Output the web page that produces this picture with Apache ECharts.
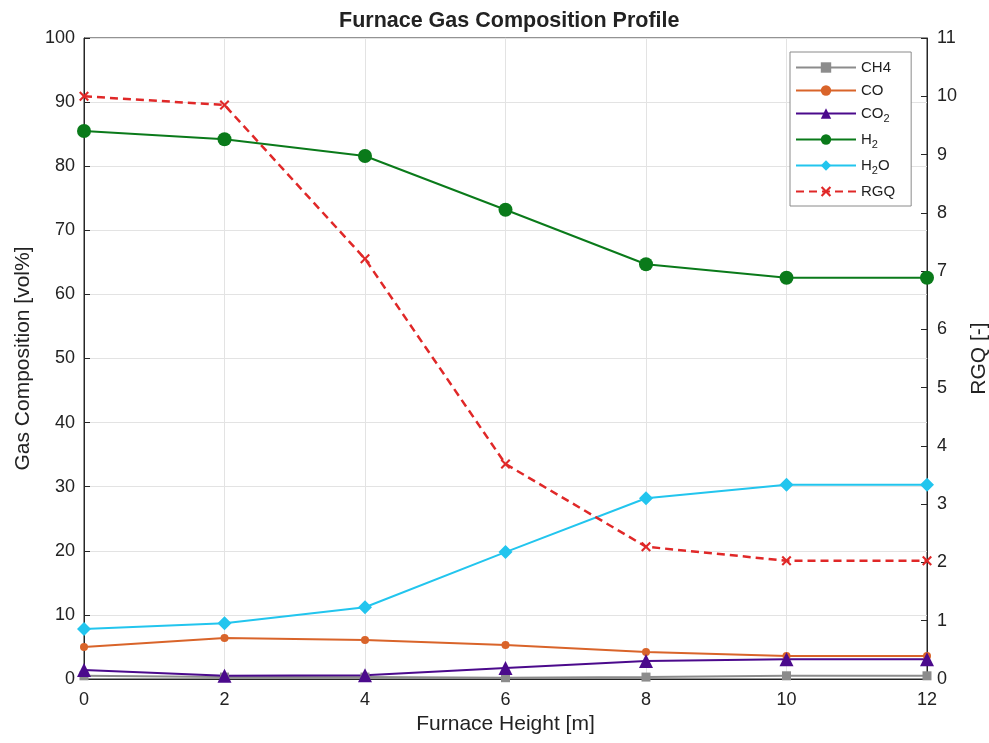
<!DOCTYPE html>
<html>
<head>
<meta charset="utf-8">
<script src="https://cdn.jsdelivr.net/npm/echarts@6/dist/echarts.min.js"></script>
<style>
  html, body { margin: 0; padding: 0; background: #fff; }
  #chart { width: 989px; height: 743px; }
</style>
</head>
<body>
<div id="chart"></div>
<script>
// Furnace height positions [m]
const heights = [0, 2, 4, 6, 8, 10, 12];

// Gas composition [vol%]
const ch4 = [0.5, 0.3, 0.3, 0.2, 0.3, 0.5, 0.5];
const co  = [5.0, 6.4, 6.1, 5.3, 4.2, 3.6, 3.6];
const co2 = [1.4, 0.5, 0.6, 1.7, 2.8, 3.1, 3.1];
const h2  = [85.5, 84.2, 81.6, 73.2, 64.7, 62.6, 62.6];
const h2o = [7.8, 8.7, 11.2, 19.8, 28.2, 30.3, 30.3];

// Reducing gas quality [-] on the right axis
const rgq = [10.0, 9.85, 7.21, 3.69, 2.27, 2.03, 2.03];

const FONT = 'Liberation Sans, Arial, Helvetica, sans-serif';
// bold "x" cross marker
const xMark = 'path://M1.5,0 L5,3.5 L8.5,0 L10,1.5 L6.5,5 L10,8.5 L8.5,10 L5,6.5 L1.5,10 L0,8.5 L3.5,5 L0,1.5 Z';

function pairs(vals) { return heights.map((h, i) => [h, vals[i]]); }

function lineSeries(name, vals, color, symbol, size, extra) {
  return Object.assign({
    name: name,
    type: 'line',
    data: pairs(vals),
    symbol: symbol,
    symbolSize: size,
    showSymbol: true,
    lineStyle: { color: color, width: 2 },
    itemStyle: { color: color },
    emphasis: { disabled: true },
    animation: false,
    z: 3
  }, extra || {});
}

const chart = echarts.init(document.getElementById('chart'), null, { renderer: 'canvas' });

chart.setOption({
  backgroundColor: '#ffffff',
  title: {
    text: 'Furnace Gas Composition Profile',
    left: 334,
    top: 5,
    textStyle: { fontFamily: FONT, fontSize: 21.5, fontWeight: 'bold', color: '#222' }
  },
  grid: {
    left: 84, right: 62, top: 38, bottom: 64,
    containLabel: false,
    outerBoundsMode: 'none',
    show: true, borderColor: '#262626', borderWidth: 1, backgroundColor: '#fff'
  },
  legend: {
    orient: 'vertical',
    left: 790, top: 52,
    itemWidth: 60, itemHeight: 13, itemGap: 8,
    padding: [8, 16, 7, 5],
    backgroundColor: '#fff',
    borderColor: '#8a8a8a', borderWidth: 1,
    data: ['CH4', 'CO', 'CO2', 'H2', 'H2O', 'RGQ'],
    formatter: function (n) {
      if (n === 'CO2') return 'CO{sub|2}';
      if (n === 'H2') return 'H{sub|2}';
      if (n === 'H2O') return 'H{sub|2}O';
      return n;
    },
    textStyle: {
      fontFamily: FONT, fontSize: 15, color: '#222',
      rich: { sub: { fontFamily: FONT, fontSize: 11, color: '#222', padding: [10, 0, 0, 0] } }
    }
  },
  xAxis: {
    type: 'value',
    min: 0, max: 12, interval: 2,
    name: 'Furnace Height [m]',
    nameLocation: 'middle', nameGap: 31,
    nameTextStyle: { fontFamily: FONT, fontSize: 21, color: '#222' },
    axisLine: { lineStyle: { color: '#262626' } },
    axisTick: { inside: true, length: 6, lineStyle: { color: '#262626' } },
    axisLabel: { fontFamily: FONT, fontSize: 18, color: '#222', margin: 12 },
    splitLine: { show: true, lineStyle: { color: '#e3e3e3', width: 1 } }
  },
  yAxis: [
    {
      type: 'value',
      min: 0, max: 100, interval: 10,
      name: 'Gas Composition [vol%]',
      nameLocation: 'middle', nameGap: 50, nameRotate: 90,
      nameTextStyle: { fontFamily: FONT, fontSize: 21, color: '#222' },
      axisLine: { show: true, lineStyle: { color: '#262626' } },
      axisTick: { show: true, inside: true, length: 6, lineStyle: { color: '#262626' } },
      axisLabel: { fontFamily: FONT, fontSize: 18, color: '#222', margin: 9 },
      splitLine: { show: true, lineStyle: { color: '#e3e3e3', width: 1 } }
    },
    {
      type: 'value',
      position: 'right',
      min: 0, max: 11, interval: 1,
      name: 'RGQ [-]',
      nameLocation: 'middle', nameGap: 42, nameRotate: 90,
      nameTextStyle: { fontFamily: FONT, fontSize: 21, color: '#222' },
      axisLine: { show: true, lineStyle: { color: '#262626' } },
      axisTick: { show: true, inside: true, length: 6, lineStyle: { color: '#262626' } },
      axisLabel: { fontFamily: FONT, fontSize: 18, color: '#222', margin: 10 },
      splitLine: { show: false }
    }
  ],
  series: [
    lineSeries('CH4', ch4, '#8c8c8c', 'rect', 9),
    lineSeries('CO', co, '#d9642a', 'circle', 8),
    lineSeries('CO2', co2, '#4b0a8c', 'triangle', 14),
    lineSeries('H2', h2, '#0a7a1a', 'circle', 14),
    lineSeries('H2O', h2o, '#22c5ee', 'diamond', 14),
    lineSeries('RGQ', rgq, '#e02828', xMark, 10, {
      yAxisIndex: 1,
      lineStyle: { color: '#e02828', width: 2.5, type: [8, 5] }
    })
  ]
});
</script>
</body>
</html>
